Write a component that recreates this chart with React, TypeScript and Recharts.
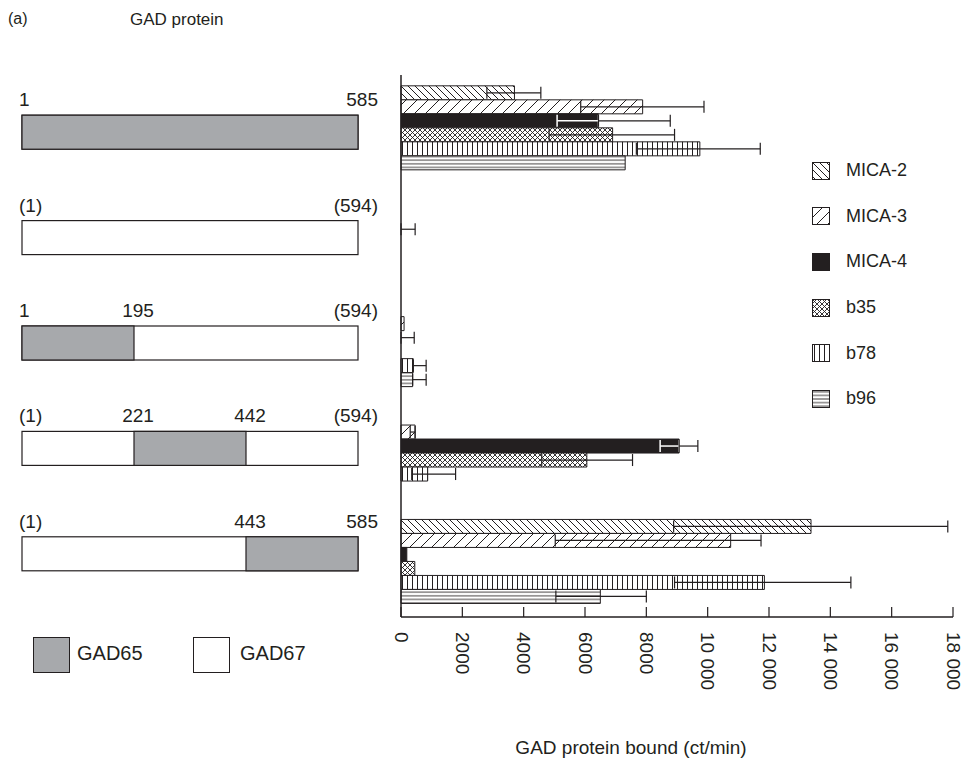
import React from 'react';
import { BarChart, Bar, XAxis, YAxis, ErrorBar, Legend, Rectangle } from 'recharts';

const INK = '#231f20';
const GREY = '#a7a9ac';
const FONT = '"Liberation Sans", Arial, Helvetica, sans-serif';

// GAD constructs, top to bottom
const constructs = ['GAD65', 'GAD67', 'GAD65(1-195)/GAD67', 'GAD67/GAD65(221-442)/GAD67', 'GAD67/GAD65(443-585)'];
// grey (GAD65) part of each construct bar, in thirds of the bar
const gad65Parts: ([number, number] | null)[] = [[0, 3], null, [0, 1], [1, 2], [2, 3]];
// residue numbers written above each construct: [text, position in thirds]
const residueLabels: [string, number][][] = [
  [['1', 0], ['585', 3]],
  [['(1)', 0], ['(594)', 3]],
  [['1', 0], ['195', 1], ['(594)', 3]],
  [['(1)', 0], ['221', 1], ['442', 2], ['(594)', 3]],
  [['(1)', 0], ['443', 2], ['585', 3]],
];

const seriesNames = ['MICA-2', 'MICA-3', 'MICA-4', 'b35', 'b78', 'b96'];

// GAD protein bound (ct/min), one value per construct
const mica2 = [3700, 0, 0, 0, 13370];
const mica3 = [7880, 0, 100, 460, 10750];
const mica4 = [6440, 1, 1, 9070, 190];
const b35 = [6900, 0, 0, 6060, 450];
const b78 = [9745, 0, 400, 870, 11850];
const b96 = [7310, 0, 380, 0, 6500];

// error bars as [below, above]
type Err = [number, number] | null;
const mica2Err: Err[] = [[900, 860], null, null, null, [4480, 4460]];
const mica3Err: Err[] = [[2020, 2000], null, null, [160, 0], [5720, 990]];
const mica4Err: Err[] = [[1350, 2340], [0, 460], [0, 430], [620, 610], null];
const b35Err: Err[] = [[2070, 2020], null, null, [1470, 1490], null];
const b78Err: Err[] = [[2070, 1970], null, [0, 420], [520, 910], [2930, 2820]];
const b96Err: Err[] = [null, null, [0, 440], null, [1450, 1500]];

const xTicks = [0, 2000, 4000, 6000, 8000, 10000, 12000, 14000, 16000, 18000];

const seriesValues = [mica2, mica3, mica4, b35, b78, b96];
const seriesErrors = [mica2Err, mica3Err, mica4Err, b35Err, b78Err, b96Err];
const fills = ['url(#pMica2)', 'url(#pMica3)', INK, 'url(#pB35)', 'url(#pB78)', 'url(#pB96)'];

const data = constructs.map((name, i) => {
  const row: any = { name };
  seriesValues.forEach((vals, s) => {
    row['s' + s] = vals[i];
    row['s' + s + 'Err'] = seriesErrors[s][i];
  });
  // black bar: inner part of the whisker is white, outer part black
  const e = mica4Err[i];
  row.s2Lo = e && e[0] > 0 ? [e[0], 0] : null;
  row.s2Hi = e ? [0, e[1]] : null;
  return row;
});

const fmtTick = (v: number) => (v >= 10000 ? `${Math.floor(v / 1000)} ${String(v % 1000).padStart(3, '0')}` : String(v));

// bars thinner than a pixel are not drawn (only their whisker shows)
const BarShape = (props: any) => (props.width < 1 ? <g /> : <Rectangle {...props} />);

const XTick = (props: any) => {
  const { x, y, payload } = props;
  return (
    <g>
      <line x1={x} y1={y} x2={x} y2={y - 10} stroke={INK} strokeWidth={1.2} />
      <text
        x={x}
        y={y + 15}
        transform={`rotate(90 ${x} ${y + 15})`}
        textAnchor="start"
        dominantBaseline="central"
        fontSize={19}
        fontFamily={FONT}
        fill={INK}
      >
        {fmtTick(payload.value)}
      </text>
    </g>
  );
};

// draws the construct diagram next to each category
const DiagramTick = (props: any) => {
  const { y, payload } = props;
  const i = constructs.indexOf(payload.value);
  const x0 = 22;
  const x1 = 358;
  const w = (x1 - x0) / 3;
  const cy = y + 3 - i * 3;
  const top = cy - 17;
  const part = gad65Parts[i];
  return (
    <g>
      <rect x={x0} y={top} width={x1 - x0} height={34} fill="#fff" stroke={INK} strokeWidth={1.2} />
      {part && (
        <rect x={x0 + part[0] * w} y={top} width={(part[1] - part[0]) * w} height={34} fill={GREY} stroke={INK} strokeWidth={1.2} />
      )}
      {residueLabels[i].map(([t, p]) => (
        <text
          key={t + p}
          x={p === 0 ? 19 : p === 3 ? 378 : x0 + p * w + 4}
          y={top - 9}
          textAnchor={p === 0 ? 'start' : p === 3 ? 'end' : 'middle'}
          fontSize={19}
          fontFamily={FONT}
          fill={INK}
        >
          {t}
        </text>
      ))}
    </g>
  );
};

const SeriesLegend = () => (
  <div style={{ fontFamily: FONT, fontSize: 18, color: INK }}>
    {seriesNames.map((n, s) => (
      <div key={n} style={{ display: 'flex', alignItems: 'center', height: 45.6 }}>
        <svg width={18} height={18} style={{ marginRight: 16 }}>
          <rect x={0.5} y={0.5} width={17} height={17} fill={fills[s]} stroke={INK} strokeWidth={1} />
        </svg>
        <span>{n}</span>
      </div>
    ))}
  </div>
);

const Patterns = () => (
  <svg width={0} height={0} style={{ position: 'absolute' }}>
    <defs>
      <pattern id="pMica2" width={7} height={7} patternUnits="userSpaceOnUse">
        <rect width={7} height={7} fill="#fff" />
        <path d="M0,0 L7,7 M-1,6 L1,8 M6,-1 L8,1" stroke={INK} strokeWidth={1} />
      </pattern>
      <pattern id="pMica3" width={11} height={11} patternUnits="userSpaceOnUse">
        <rect width={11} height={11} fill="#fff" />
        <path d="M0,11 L11,0 M-1,1 L1,-1 M10,12 L12,10" stroke={INK} strokeWidth={1} />
      </pattern>
      <pattern id="pB35" width={5} height={5} patternUnits="userSpaceOnUse">
        <rect width={5} height={5} fill="#fff" />
        <path d="M0,0 L5,5 M0,5 L5,0" stroke={INK} strokeWidth={0.9} />
      </pattern>
      <pattern id="pB78" width={5} height={10} patternUnits="userSpaceOnUse">
        <rect width={5} height={10} fill="#fff" />
        <path d="M2.5,0 L2.5,10" stroke={INK} strokeWidth={1} />
      </pattern>
      <pattern id="pB96" width={10} height={3.6} patternUnits="userSpaceOnUse">
        <rect width={10} height={3.6} fill="#fff" />
        <path d="M0,1.8 L10,1.8" stroke={INK} strokeWidth={0.9} />
      </pattern>
    </defs>
  </svg>
);

export default function App() {
  return (
    <div style={{ position: 'absolute', left: 0, top: 0, width: 964, height: 770, background: '#fff', fontFamily: FONT, color: INK }}>
      <Patterns />
      <div style={{ position: 'absolute', left: 8, top: 10, fontSize: 16 }}>(a)</div>
      <div style={{ position: 'absolute', left: 130, top: 10, fontSize: 17 }}>GAD protein</div>

      <BarChart
        width={964}
        height={770}
        data={data}
        layout="vertical"
        margin={{ top: 75, right: 11, left: 0, bottom: 0 }}
        barCategoryGap="10%"
        barGap={0}
      >
        <XAxis
          type="number"
          domain={[0, 18000]}
          ticks={xTicks}
          height={153}
          tickSize={0}
          tickMargin={0}
          tickLine={false}
          axisLine={{ stroke: INK, strokeWidth: 1.5 }}
          tick={<XTick />}
          interval={0}
        />
        <YAxis
          type="category"
          dataKey="name"
          width={401}
          tickLine={false}
          axisLine={{ stroke: INK, strokeWidth: 1.5 }}
          tick={<DiagramTick />}
          interval={0}
        />
        <Legend
          layout="horizontal"
          align="center"
          verticalAlign="middle"
          wrapperStyle={{ position: 'absolute', left: 812, top: 148, width: 150, height: 280 }}
          content={<SeriesLegend />}
        />
        {seriesNames.map((n, s) => (
          <Bar
            key={n}
            dataKey={'s' + s}
            name={n}
            fill={fills[s]}
            stroke={INK}
            strokeWidth={1}
            shape={BarShape}
            isAnimationActive={false}
          >
            {s === 2
              ? [
                  <ErrorBar key="lo" dataKey="s2Lo" direction="x" width={6} stroke="#fff" strokeWidth={1.5} />,
                  <ErrorBar key="hi" dataKey="s2Hi" direction="x" width={6} stroke={INK} strokeWidth={1.2} />,
                ]
              : <ErrorBar dataKey={'s' + s + 'Err'} direction="x" width={6} stroke={INK} strokeWidth={1.2} />}
          </Bar>
        ))}
      </BarChart>

      <div style={{ position: 'absolute', left: 33, top: 637, width: 35, height: 34, background: GREY, border: `1.2px solid ${INK}` }} />
      <div style={{ position: 'absolute', left: 77, top: 642, fontSize: 20 }}>GAD65</div>
      <div style={{ position: 'absolute', left: 193, top: 637, width: 35, height: 34, background: '#fff', border: `1.2px solid ${INK}` }} />
      <div style={{ position: 'absolute', left: 240, top: 642, fontSize: 20 }}>GAD67</div>

      <div style={{ position: 'absolute', left: 381, width: 500, top: 737, textAlign: 'center', fontSize: 19 }}>
        GAD protein bound (ct/min)
      </div>
    </div>
  );
}
